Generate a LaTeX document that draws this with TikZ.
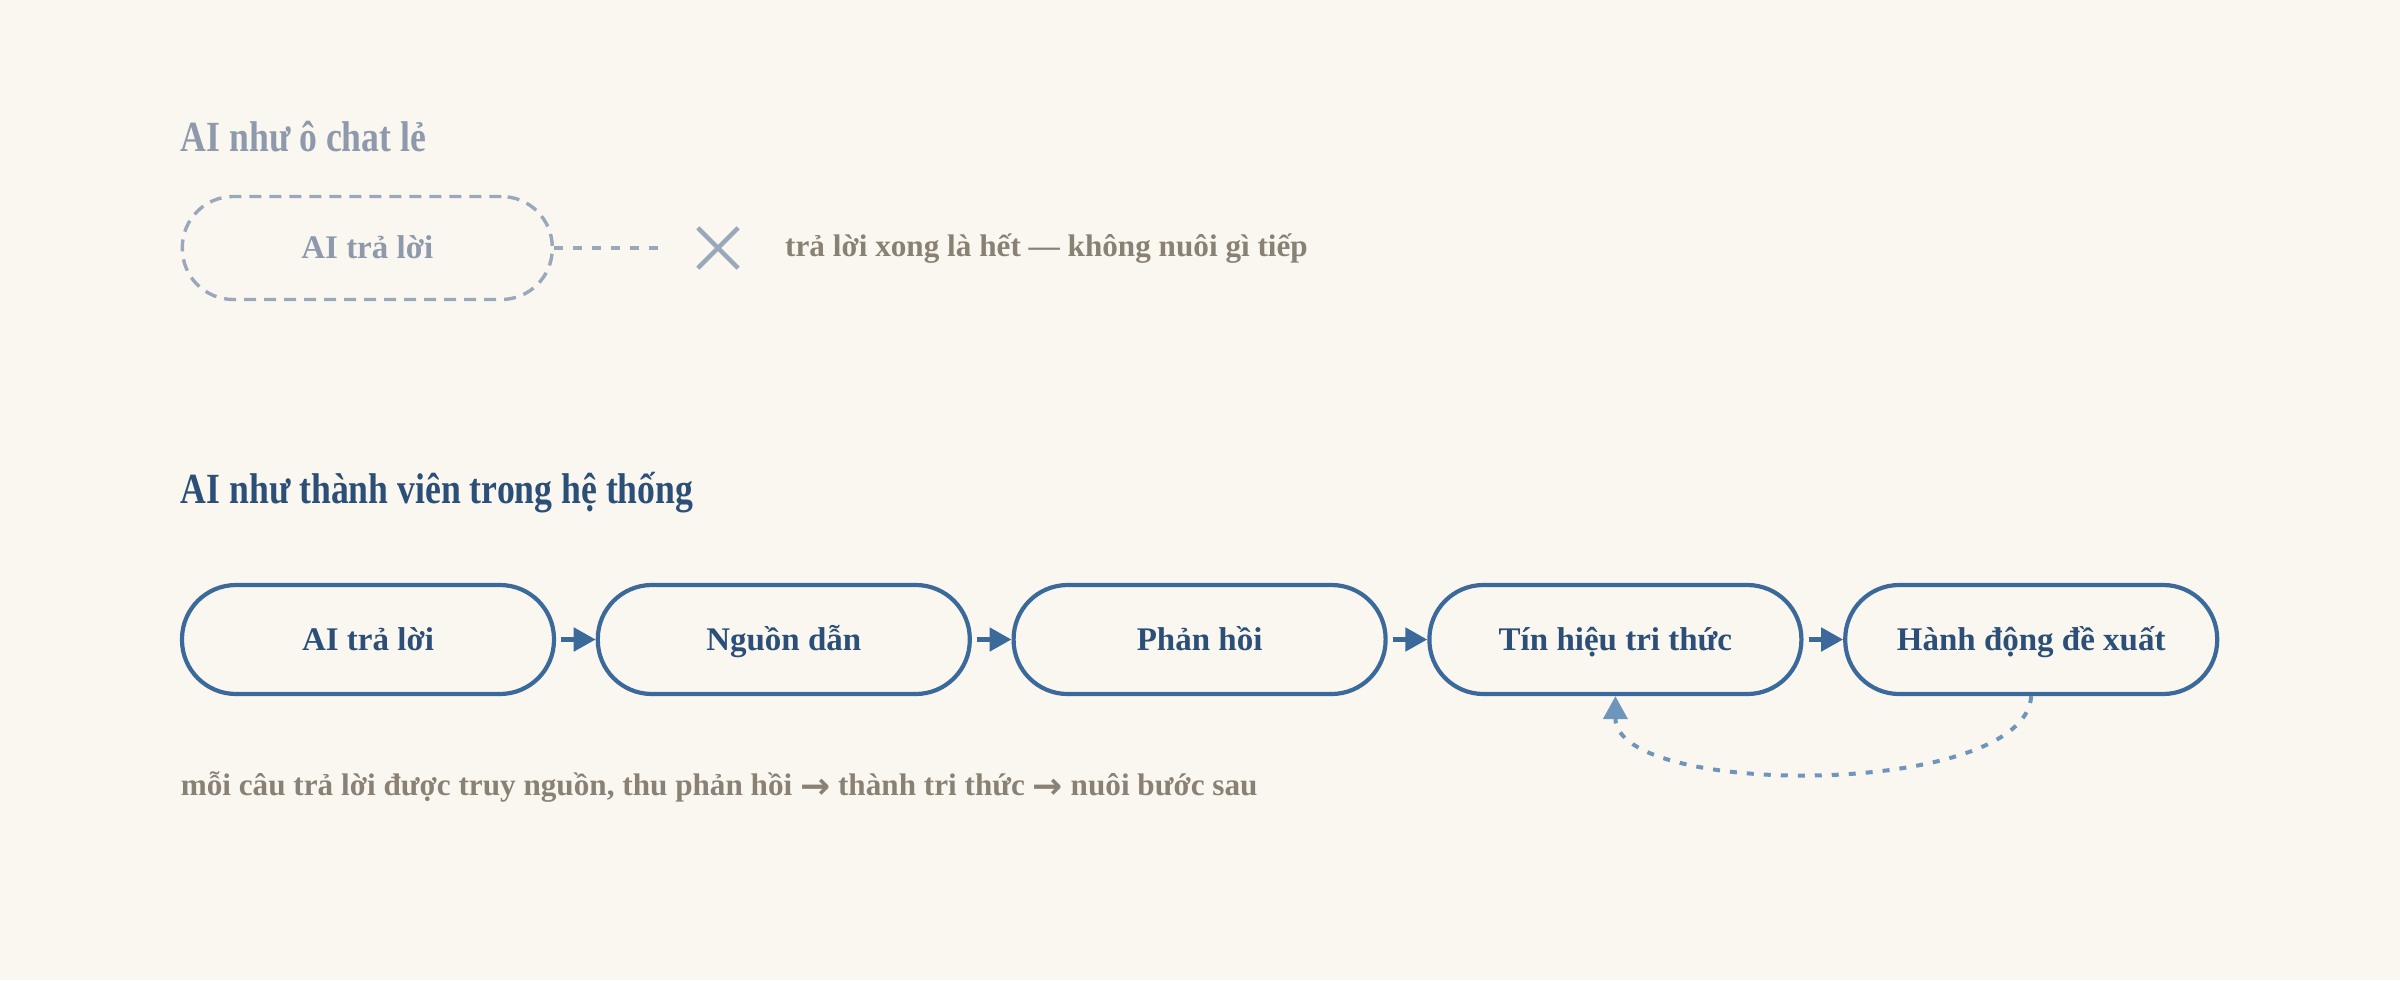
\documentclass[tikz,border=0pt]{standalone}
\usepackage{fontspec}
\setmainfont{Liberation Serif}
\newfontfamily\headfont[FakeStretch=0.83]{Liberation Serif}
\newfontfamily\arrowfont{DejaVu Sans}
\newcommand\nextstep{\raisebox{-3pt}{\arrowfont\bfseries\fontsize{36}{40}\selectfont →}}
\usetikzlibrary{arrows.meta,shapes.misc}
\definecolor{paper}{HTML}{FAF7F1}
\definecolor{ghost}{HTML}{8E9AAB}
\definecolor{ghostline}{HTML}{9AA8BB}
\definecolor{mute}{HTML}{8A8175}
\definecolor{deep}{HTML}{2B4F77}
\definecolor{boxblue}{HTML}{3B6A9A}
\definecolor{soft}{HTML}{6E95BB}
\tikzset{
	head/.style={anchor=base west, inner sep=0pt, font=\headfont\bfseries\fontsize{43}{50}\selectfont},
	note/.style={anchor=base west, inner sep=0pt, text=mute, font=\bfseries\fontsize{31.2}{37}\selectfont},
	pill/.style={draw=boxblue, line width=4.2pt, rounded corners=54pt, minimum width=372pt, minimum height=109pt, inner sep=0pt, text height=21.7pt, text depth=0pt, text=deep, font=\bfseries\fontsize{33}{39}\selectfont},
	ghostpill/.style={pill, draw=ghostline, line width=3.4pt, dash pattern=on 12pt off 8pt, minimum height=103pt, minimum width=370pt, rounded corners=51pt, text=ghost},
	flow/.style={boxblue, line width=5pt, shorten <=5pt, -{Triangle[length=22pt,width=23pt]}},
	loopback/.style={soft, line width=4pt, dash pattern=on 7pt off 10pt, -{Triangle[length=23pt,width=24pt]}}
}

\begin{document}
\begin{tikzpicture}[x=1pt, y=-1pt]
			%%%%% START %%%%%
			
			\fill[paper] (0, 0) rectangle (2400, 980);
			\useasboundingbox (0, 0) rectangle (2400, 980);
			
			% lone chat
			\node[head, text=ghost] (lonetitle) at (180.6, 151.7) {AI như ô chat lẻ};
			\node[ghostpill] (ask) at (367.3, 248) {AI trả lời};
			\coordinate (cut) at (666, 248);
			\draw[ghostline, line width=3.4pt, dash pattern=on 9pt off 10pt] (ask.east) -- (cut);
			\node[cross out, draw=ghostline, line width=4.3pt, minimum size=36pt, inner sep=0pt] (stop) at (718, 248) {};
			\node[note] (endnote) at (785, 256.7) {trả lời xong là hết — không nuôi gì tiếp};
			
			% member of the system
			\node[head, text=deep] (systitle) at (180.6, 503.5) {AI như thành viên trong hệ thống};
			
			\node[pill] (ans) at (368, 639.5) {AI trả lời};
			\node[pill] (src) at (783.8, 639.5) {Nguồn dẫn};
			\node[pill] (fb) at (1199.6, 639.5) {Phản hồi};
			\node[pill] (sig) at (1615.4, 639.5) {Tín hiệu tri thức};
			\node[pill] (act) at (2031.2, 639.5) {Hành động đề xuất};
			
			\draw[flow] (ans.east) -- (src.west);
			\draw[flow] (src.east) -- (fb.west);
			\draw[flow] (fb.east) -- (sig.west);
			\draw[flow] (sig.east) -- (act.west);
			
			\draw[loopback] (act.south) .. controls +(-6, 102) and +(0, 102) .. (sig.south);
			
			\node[note] (loopnote) at (180.6, 795) {mỗi câu trả lời được truy nguồn, thu phản hồi \nextstep{} thành tri thức \nextstep{} nuôi bước sau};
			
			%%%%% END %%%%%
		\end{tikzpicture}
\end{document}
